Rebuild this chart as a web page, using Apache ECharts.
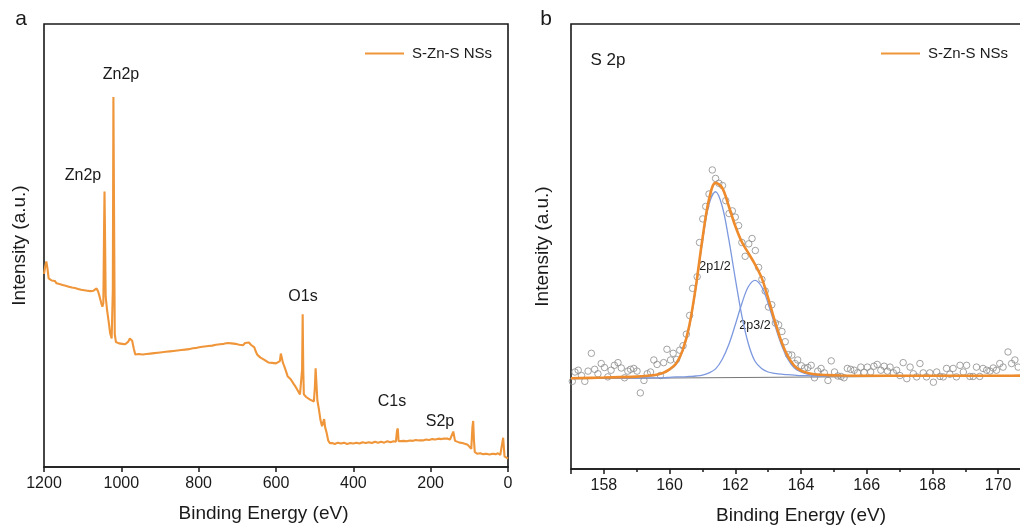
<!DOCTYPE html>
<html>
<head>
<meta charset="utf-8">
<script src="https://cdn.jsdelivr.net/npm/echarts@6/dist/echarts.min.js"></script>
<style>
html,body{margin:0;padding:0;background:#ffffff;}
#chart{width:1020px;height:528px;}
</style>
</head>
<body>
<div id="chart"></div>
<script>
// ---------- Panel a: XPS survey ----------
const surveyBE = [1200,1197,1194,1191,1188,1184,1180,1176,1172,1168,1164,1160,1156,1152,1148,1144,1140,1136,1132,1128,1124,1120,1116,1112,1108,1104,1100,1096,1092,1088,1084,1080,1076,1072,1068,1064,1060,1056,1052,1049,1046.5,1044.5,1043.5,1042.5,1040.5,1037,1033,1029,1025,1022,1020.5,1019,1017,1014,1010,1006,1002,998,994,990,986,982,978,975,972,968,964,960,955,950,945,940,935,930,925,920,915,910,905,900,895,890,885,880,875,870,865,860,855,850,845,840,835,830,825,820,815,810,805,800,795,790,785,780,775,770,765,760,755,750,745,740,735,730,725,720,715,710,705,700,695,690,685,680,675,670,665,660,656,652,648,644,640,635,630,625,620,615,610,605,600,595,590,587.5,585.5,582,578,574,570,566,562,558,554,550,546,542,538,535,532.5,531,529.5,528,522,517,512,507,502,499.5,497.5,495.5,493,489,485,481,478,475.5,473,469,465,461,455,448,440,432,424,416,408,400,392,384,376,368,360,352,344,336,328,320,312,304,296,290,287,285,283,278,270,262,254,246,238,230,225,220,212,204,196,188,180,172,166,161,156,150,145,141.5,139.5,137,132,125,118,110,104,99,95,92,90,88,86,80,72,64,56,48,40,32,26,20,15,12.5,11,9,4,0];
const surveyIntensity = [43.6,45.2,46.4,44.8,42.6,42.3,42.1,41.7,42.0,41.5,41.8,41.3,41.6,41.1,41.4,40.9,41.2,40.7,41.0,40.5,40.8,40.4,40.6,40.2,40.5,40.0,40.3,39.9,40.2,39.8,40.0,39.7,40.0,39.8,40.1,40.3,39.6,38.4,37.0,36.2,37.0,55.0,62.2,55.0,38.5,35.5,33.0,30.2,29.0,40.0,83.5,60.0,30.0,28.2,28.4,27.9,28.3,27.8,28.2,27.7,27.9,28.3,29.0,29.4,28.5,26.8,25.4,25.2,25.5,25.1,25.4,25.0,25.5,25.2,25.6,25.3,25.7,25.4,25.8,25.5,25.9,25.6,26.0,25.7,26.1,25.8,26.2,25.9,26.3,26.0,26.4,26.1,26.5,26.2,26.6,26.4,26.8,26.5,26.9,26.7,27.1,26.8,27.2,26.9,27.3,27.1,27.4,27.2,27.6,27.3,27.7,27.4,27.8,27.6,28.0,28.2,27.9,28.3,27.8,28.0,27.6,27.9,27.5,28.0,27.7,28.1,27.6,27.6,27.0,26.0,25.3,25.0,24.7,24.5,24.2,23.9,23.6,23.8,23.5,23.7,23.4,23.8,23.9,25.6,25.2,23.5,22.6,21.6,20.5,20.8,19.8,19.4,18.7,18.2,17.6,17.0,16.4,16.2,22.0,34.5,22.0,16.4,15.8,15.5,15.2,14.9,14.8,18.0,22.3,19.0,15.0,13.0,10.6,9.2,9.4,10.8,9.0,7.7,6.0,5.4,5.4,5.2,5.5,5.3,5.5,5.2,5.4,5.3,5.5,5.3,5.6,5.4,5.6,5.4,5.7,5.5,5.7,5.5,5.8,5.6,5.8,5.7,8.2,8.7,5.8,5.7,5.9,5.8,6.0,5.9,6.1,6.0,6.4,6.0,6.2,6.1,6.3,6.2,6.4,6.3,6.4,6.6,6.4,6.2,6.0,8.0,8.4,5.9,5.7,5.5,5.4,5.2,5.0,4.7,4.1,9.0,10.4,6.0,3.4,3.0,3.1,2.9,3.0,2.8,3.0,2.9,3.1,2.7,2.6,6.6,6.6,2.4,2.1,1.9];

// ---------- Panel b: S 2p high resolution ----------
const rawBE = [157.04,157.12,157.22,157.32,157.42,157.52,157.62,157.72,157.82,157.92,158.02,158.12,158.22,158.32,158.43,158.53,158.63,158.73,158.81,158.91,159.01,159.11,159.22,159.32,159.42,159.52,159.62,159.72,159.82,159.92,160.03,160.11,160.21,160.31,160.41,160.51,160.61,160.70,160.84,160.91,161.01,161.10,161.20,161.30,161.40,161.50,161.61,161.71,161.81,161.91,162.00,162.10,162.20,162.30,162.41,162.51,162.61,162.71,162.81,162.91,163.01,163.11,163.22,163.32,163.42,163.52,163.62,163.72,163.82,163.90,164.01,164.11,164.21,164.31,164.41,164.51,164.61,164.71,164.82,164.92,165.02,165.12,165.22,165.31,165.41,165.51,165.62,165.72,165.82,165.92,166.02,166.12,166.22,166.32,166.43,166.53,166.63,166.71,166.81,166.91,167.01,167.11,167.22,167.32,167.42,167.52,167.62,167.72,167.82,167.92,168.03,168.13,168.23,168.33,168.43,168.53,168.63,168.73,168.84,168.94,169.04,169.14,169.24,169.34,169.44,169.54,169.65,169.75,169.85,169.95,170.05,170.15,170.30,170.41,170.51,170.61];
const rawIntensity = [19.7,21.8,22.2,21.0,19.7,22.0,26.0,22.4,21.4,23.7,22.8,20.7,22.2,23.3,23.9,22.7,20.5,22.0,22.4,22.6,22.0,17.1,19.9,21.4,21.8,24.5,23.5,21.0,23.9,26.9,24.5,26.0,24.6,26.7,27.7,30.3,34.5,40.6,43.2,50.9,56.2,59.0,61.8,67.2,65.3,64.2,63.7,60.3,57.4,58.0,56.6,54.7,50.9,47.8,50.6,51.8,49.1,45.3,42.6,40.0,36.4,36.9,32.8,32.4,30.9,28.6,25.7,25.6,23.7,24.5,23.2,22.7,22.8,23.3,20.5,22.0,22.6,21.6,19.9,24.3,21.8,20.9,20.8,20.5,22.6,22.4,22.2,21.6,22.9,21.7,22.9,21.8,23.1,23.5,22.2,23.1,22.0,22.9,21.6,22.2,21.0,23.9,20.3,22.9,21.4,20.7,23.7,21.6,20.7,21.6,19.5,21.8,20.8,20.7,22.6,21.3,22.6,20.7,23.3,21.8,23.3,20.8,20.8,22.9,20.8,22.6,22.2,22.0,22.7,22.2,23.7,22.9,26.3,23.7,24.5,22.9];

const fitBE = [157,158,159,159.4,159.6,159.8,160,160.2,160.4,160.6,160.8,161,161.2,161.4,161.6,161.8,162,162.2,162.4,162.6,162.8,163,163.2,163.4,163.6,163.8,164,164.2,164.4,164.8,165.2,166,168,170,171];
const fitEnvelope = [20.4,20.55,20.75,21.0,21.2,21.6,22.4,23.7,26.7,32.2,41.0,51.7,60.6,64.3,63.2,59.1,54.6,51.0,48.5,46.0,43.0,38.4,33.3,28.7,25.3,23.2,22.1,21.6,21.3,21.1,21.0,20.95,20.95,20.95,21.0];
const peak2p12 = [20.4,20.5,20.7,20.9,21.1,21.5,22.3,23.5,26.5,31.9,40.6,51.1,59.5,62.3,59.1,51.7,42.8,34.4,28.1,24.2,22.6,21.8,21.5,21.3,21.2,21.1,21.0,21.0,20.9,20.9,20.9,20.9,20.9,20.95,21.0];
const peak2p32 = [20.3,20.4,20.45,20.5,20.5,20.5,20.6,20.7,20.7,20.8,20.9,21.1,21.6,22.5,24.6,27.9,32.4,37.2,41.0,42.4,41.0,37.2,32.4,28.0,24.7,22.7,21.8,21.3,21.1,20.9,20.9,20.85,20.9,20.95,21.0];
const backgroundBE = [157,171];
const backgroundIntensity = [20.3,21.0];

const xTicksA = [0,200,400,600,800,1000,1200];

const zip = (a, b) => a.map((v, i) => [v, b[i]]);

const FONT = '"Liberation Sans", Arial, Helvetica, sans-serif';
const INK = '#1a1a1a';
const ORANGE_A = '#F0963A';
const ORANGE_B = '#EE8B2D';
const BLUE = '#7C98DE';

const chart = echarts.init(document.getElementById('chart'), null, {renderer: 'canvas'});

function txt(text, x, y, size) {
  return {
    type: 'text', x: x, y: y, silent: true,
    style: {text: text, font: size + 'px ' + FONT, fill: INK,
            align: 'center', verticalAlign: 'middle',
            textAlign: 'center', textVerticalAlign: 'middle'}
  };
}

const plainNum = v => String(v);

const baseAxis = {
  axisLine: {show: true, onZero: false, lineStyle: {color: INK, width: 1.6}},
  axisTick: {show: true, inside: false, length: 5, lineStyle: {color: INK, width: 1.5}},
  axisLabel: {fontSize: 16, color: INK, margin: 9, fontFamily: FONT, formatter: plainNum},
  splitLine: {show: false},
  nameLocation: 'middle',
  nameTextStyle: {fontSize: 19, color: INK, fontFamily: FONT}
};

const option = {
  animation: false,
  backgroundColor: '#ffffff',
  textStyle: {fontFamily: FONT},
  grid: [
    {left: 44, top: 24, width: 464, height: 443, show: true, borderColor: INK, borderWidth: 1.6,
     backgroundColor: 'transparent', containLabel: false, outerBoundsMode: 'none'},
    {left: 571, top: 24, width: 460, height: 445, show: true, borderColor: INK, borderWidth: 1.6,
     backgroundColor: 'transparent', containLabel: false, outerBoundsMode: 'none'}
  ],
  xAxis: [
    Object.assign({}, baseAxis, {
      gridIndex: 0, type: 'value', inverse: true,
      min: xTicksA[0], max: xTicksA[xTicksA.length - 1], interval: 200,
      name: 'Binding Energy (eV)', nameGap: 37,
      nameTextStyle: {fontSize: 19, color: INK, fontFamily: FONT, padding: [0, 25, 0, 0]}
    }),
    Object.assign({}, baseAxis, {
      gridIndex: 1, type: 'value', min: 157, max: 171, splitNumber: 7,
      minorTick: {show: true, splitNumber: 2, length: 3, lineStyle: {color: INK, width: 1.5}},
      minorSplitLine: {show: false},
      axisLabel: {fontSize: 16, color: INK, margin: 9, fontFamily: FONT, formatter: plainNum,
                  showMinLabel: false, showMaxLabel: false},
      name: 'Binding Energy (eV)', nameGap: 37
    })
  ],
  yAxis: [
    {gridIndex: 0, type: 'value', min: 0, max: 100,
     axisLine: {show: false}, axisTick: {show: false}, axisLabel: {show: false}, splitLine: {show: false},
     name: 'Intensity (a.u.)', nameLocation: 'middle', nameGap: 15,
     nameTextStyle: {fontSize: 19, color: INK, fontFamily: FONT}},
    {gridIndex: 1, type: 'value', min: 0, max: 100,
     axisLine: {show: false}, axisTick: {show: false}, axisLabel: {show: false}, splitLine: {show: false},
     name: 'Intensity (a.u.)', nameLocation: 'middle', nameGap: 19,
     nameTextStyle: {fontSize: 19, color: INK, fontFamily: FONT}}
  ],
  legend: [
    {left: 365, top: 46, padding: 0, itemWidth: 39, itemHeight: 2, itemGap: 0,
     data: [{name: 'S-Zn-S NSs', icon: 'rect'}],
     textStyle: {fontSize: 15, color: INK, fontFamily: FONT, padding: [0, 0, 0, 3]}},
    {left: 881, top: 46, padding: 0, itemWidth: 39, itemHeight: 2, itemGap: 0,
     data: [{name: 'S-Zn-S NSs', icon: 'rect'}],
     textStyle: {fontSize: 15, color: INK, fontFamily: FONT, padding: [0, 0, 0, 3]}}
  ],
  series: [
    {name: 'S-Zn-S NSs', type: 'line', xAxisIndex: 0, yAxisIndex: 0,
     data: zip(surveyBE, surveyIntensity), symbol: 'none', showSymbol: false,
     lineStyle: {color: ORANGE_A, width: 2.1}, itemStyle: {color: ORANGE_A}, z: 3},
    {name: 'raw', type: 'scatter', xAxisIndex: 1, yAxisIndex: 1,
     data: zip(rawBE, rawIntensity), symbol: 'circle', symbolSize: 6.5,
     itemStyle: {color: 'rgba(255,255,255,0)', borderColor: '#8c8c8c', borderWidth: 1}, z: 2},
    {name: 'background', type: 'line', xAxisIndex: 1, yAxisIndex: 1,
     data: zip(backgroundBE, backgroundIntensity), symbol: 'none',
     lineStyle: {color: '#777777', width: 1}, z: 3},
    {name: '2p1/2', type: 'line', xAxisIndex: 1, yAxisIndex: 1,
     data: zip(fitBE, peak2p12), symbol: 'none', smooth: 0.35,
     lineStyle: {color: BLUE, width: 1.3}, z: 4},
    {name: '2p3/2', type: 'line', xAxisIndex: 1, yAxisIndex: 1,
     data: zip(fitBE, peak2p32), symbol: 'none', smooth: 0.35,
     lineStyle: {color: BLUE, width: 1.3}, z: 4},
    {name: 'S-Zn-S NSs', type: 'line', xAxisIndex: 1, yAxisIndex: 1,
     data: zip(fitBE, fitEnvelope), symbol: 'none', smooth: 0.35,
     lineStyle: {color: ORANGE_B, width: 2.6}, itemStyle: {color: ORANGE_B}, z: 5}
  ],
  graphic: {elements: [
    txt('a', 21, 19, 21),
    txt('b', 546, 19, 21),
    txt('Zn2p', 121, 75, 16),
    txt('Zn2p', 83, 176, 16),
    txt('O1s', 303, 297, 16),
    txt('C1s', 392, 402, 16),
    txt('S2p', 440, 422, 16),
    txt('S 2p', 608, 60, 17),
    txt('2p1/2', 715, 267, 12.5),
    txt('2p3/2', 755, 326, 12.5)
  ]}
};

chart.setOption(option);
</script>
</body>
</html>
